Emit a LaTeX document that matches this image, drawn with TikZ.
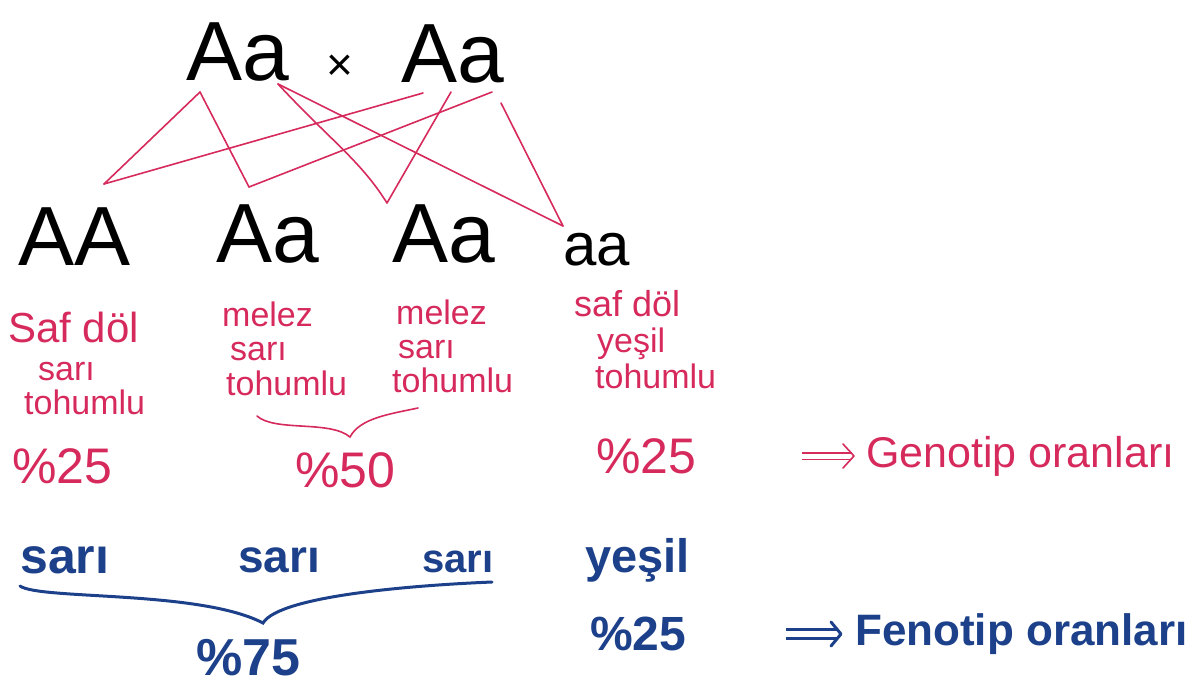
\documentclass[tikz,border=0pt]{standalone}
\usepackage{fontspec}
\setmainfont{Liberation Sans}
\usetikzlibrary{arrows.meta}
\definecolor{penred}{RGB}{214,42,92}
\definecolor{penblue}{RGB}{28,64,138}
\newcommand{\fs}[1]{\fontsize{#1}{#1}\selectfont}
\tikzset{
  txt/.style={inner sep=0pt, anchor=base west},
  big/.style={txt, font=\fs{84}, text=black},
  redlbl/.style={txt, font=\fs{34}, text=penred},
  redpct/.style={txt, font=\fs{50}, text=penred},
  bluelbl/.style={txt, font=\bfseries\fs{48}, text=penblue},
  link/.style={penred, line width=1.6pt, line cap=round, line join=round},
  gbrace/.style={penred, line width=1.6pt, line cap=round},
  bbrace/.style={penblue, line width=3pt, line cap=round},
  gshaft/.style={penred, double, double distance=5pt, line width=1.4pt},
  bshaft/.style={penblue, double, double distance=6pt, line width=3pt},
  ghead/.style={penred, line width=1.6pt, line cap=round, line join=round},
  bhead/.style={penblue, line width=3pt, line cap=round, line join=round},
}
\begin{document}
\begin{tikzpicture}[x=1pt,y=-1pt]
\useasboundingbox (0,0) rectangle (1193,686);
% parents
\node[big] (P1) at (186,80) {Aa};
\node[inner sep=0pt, font=\fs{46}] (X) at (340,68) {×};
\node[big] (P2) at (401,82) {Aa};
% offspring
\node[big] (C1) at (18,265) {AA};
\node[big] (C2) at (216,262) {Aa};
\node[big] (C3) at (392,262) {Aa};
\node[big, font=\fs{60}] (C4) at (563,265) {aa};
% connector anchor points
\coordinate (p1a) at (200,92);
\coordinate (p1b) at (278,84);
\coordinate (p2a) at (423,93);
\coordinate (p2b) at (451,92);
\coordinate (p2c) at (492,92);
\coordinate (p2d) at (501,103);
\coordinate (c1) at (104,184);
\coordinate (c2) at (249,187);
\coordinate (c3) at (387,203);
\coordinate (c4) at (563,226);
\draw[link] (p1a) -- (c1);
\draw[link] (p1a) -- (c2);
\draw[link] (p2a) -- (c1);
\draw[link] (p2c) -- (c2);
\draw[link] (p1b) .. controls (330,140) and (360,160) .. (c3);
\draw[link] (p2b) -- (c3);
\draw[link] (p1b) -- (c4);
\draw[link] (p2d) -- (c4);
% red labels
\node[redlbl, font=\fs{42}] (l1a) at (8,342) {Saf döl};
\node[redlbl] (l1b) at (38,380) {sarı};
\node[redlbl] (l1c) at (24,414) {tohumlu};
\node[redlbl] (l2a) at (222,326) {melez};
\node[redlbl] (l2b) at (230,360) {sarı};
\node[redlbl] (l2c) at (226,395) {tohumlu};
\node[redlbl] (l3a) at (396,324) {melez};
\node[redlbl] (l3b) at (398,358) {sarı};
\node[redlbl] (l3c) at (392,392) {tohumlu};
\node[redlbl, font=\fs{36}] (l4a) at (574,316) {saf döl};
\node[redlbl] (l4b) at (597,352) {yeşil};
\node[redlbl] (l4c) at (595,388) {tohumlu};
% red brace
\coordinate (rb1) at (257,416);
\coordinate (rbt) at (350,437);
\coordinate (rb2) at (418,408);
\draw[gbrace] (rb1) .. controls (275,432) and (330,420) .. (rbt)
               .. controls (360,418) and (390,414) .. (rb2);
% red percents
\node[redpct] (g1) at (12,483) {\%25};
\node[redpct] (g2) at (295,487) {\%50};
\node[redpct] (g3) at (596,473) {\%25};
\node[txt, font=\fs{43}, text=penred] (gen) at (866,467) {Genotip oranları};
\coordinate (ga) at (802,456);
\coordinate (gE) at ([xshift=-12pt]ga -| gen.west);
\draw[gshaft] (ga) -- ([xshift=-2pt]gE);
\draw[ghead] ([xshift=-11pt,yshift=12pt]gE) -- (gE) -- ([xshift=-11pt,yshift=-12pt]gE);
% blue labels
\node[bluelbl, font=\bfseries\fs{50}] (b1) at (20,573) {sarı};
\node[bluelbl, font=\bfseries\fs{46}] (b2) at (238,572) {sarı};
\node[bluelbl, font=\bfseries\fs{40}] (b3) at (422,572) {sarı};
\node[bluelbl, font=\bfseries\fs{47}] (b4) at (585,572) {yeşil};
% blue brace
\coordinate (bb1) at (20,586);
\coordinate (bbt) at (263,623);
\coordinate (bb2) at (492,582);
\draw[bbrace] (bb1) .. controls (40,600) and (200,590) .. (bbt)
               .. controls (280,595) and (420,585) .. (bb2);
\node[bluelbl, font=\bfseries\fs{52}] (f1) at (196,675) {\%75};
\node[bluelbl, font=\bfseries\fs{48}] (f2) at (590,650) {\%25};
\node[bluelbl, font=\bfseries\fs{44}] (fen) at (855,645) {Fenotip oranları};
\coordinate (fa) at (786,634);
\coordinate (fE) at ([xshift=-14pt]fa -| fen.west);
\draw[bshaft] (fa) -- ([xshift=-3pt]fE);
\draw[bhead] ([xshift=-10pt,yshift=12pt]fE) -- (fE) -- ([xshift=-10pt,yshift=-12pt]fE);
\end{tikzpicture}
\end{document}
